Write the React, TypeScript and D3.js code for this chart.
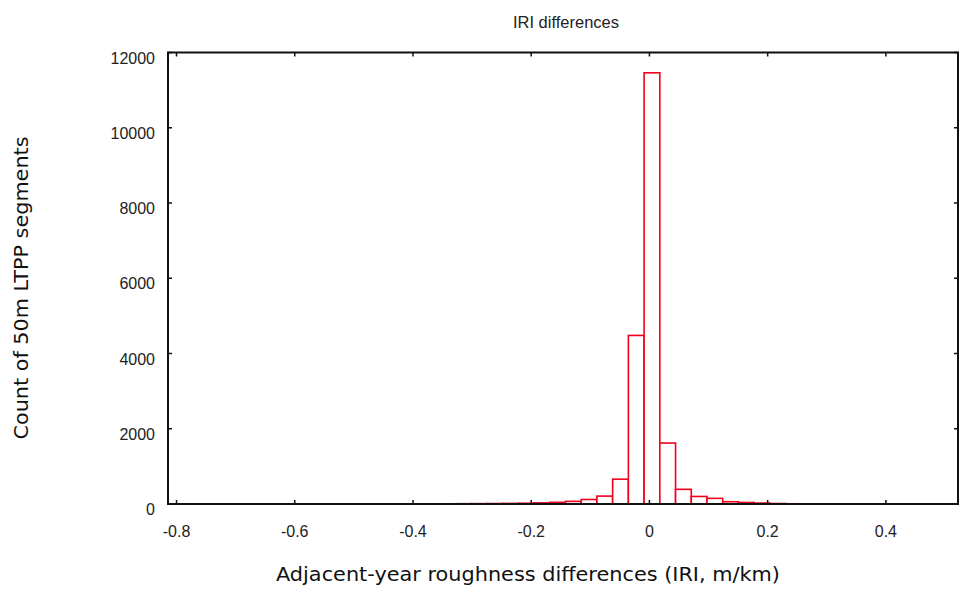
import React, { useEffect, useRef } from 'react';
import * as d3 from 'd3';

// histogram bins: first edge and bin width (IRI, m/km)
const binStart = -0.3548;
const binWidth = 0.0266;
const binCounts = [5, 8, 10, 12, 15, 20, 30, 45, 70, 120, 210, 660, 4480, 11460, 1620, 390, 200, 150, 60, 40, 25, 12, 6];

const xTicks = [-0.8, -0.6, -0.4, -0.2, 0, 0.2, 0.4];
const yTicks = [0, 2000, 4000, 6000, 8000, 10000, 12000];

const chartTitle = 'IRI differences';
const xLabel = 'Adjacent-year roughness differences (IRI, m/km)';
const yLabel = 'Count of 50m LTPP segments';

const App: React.FC = () => {
  const svgRef = useRef<SVGSVGElement>(null);

  useEffect(() => {
    if (!svgRef.current) return;
    const svg = d3.select(svgRef.current);
    svg.selectAll('*').remove();

    const left = 168, right = 958, top = 52.5, bottom = 504;

    const xScale = d3.scaleLinear().domain([-0.8144, 0.522]).range([left, right]);
    const yScale = d3.scaleLinear().domain([0, 12000]).range([bottom, top]);

    const bins = binCounts.map((c, i) => ({ x0: binStart + i * binWidth, x1: binStart + (i + 1) * binWidth, count: c }));

    // bars
    svg.append('g')
      .selectAll('rect')
      .data(bins)
      .enter()
      .append('rect')
      .attr('x', d => xScale(d.x0))
      .attr('y', d => yScale(d.count))
      .attr('width', d => xScale(d.x1) - xScale(d.x0))
      .attr('height', d => yScale(0) - yScale(d.count))
      .attr('fill', 'white')
      .attr('stroke', '#f0001c')
      .attr('stroke-width', 1.6);

    // frame
    svg.append('rect')
      .attr('x', left)
      .attr('y', top)
      .attr('width', right - left)
      .attr('height', bottom - top)
      .attr('fill', 'none')
      .attr('stroke', '#111')
      .attr('stroke-width', 2);

    const tickLen = 4;
    const ticks = svg.append('g').attr('stroke', '#111').attr('stroke-width', 1.5);
    xTicks.forEach(t => {
      const x = xScale(t);
      ticks.append('line').attr('x1', x).attr('x2', x).attr('y1', bottom).attr('y2', bottom - tickLen);
      ticks.append('line').attr('x1', x).attr('x2', x).attr('y1', top).attr('y2', top + tickLen);
    });
    yTicks.forEach(t => {
      const y = yScale(t);
      ticks.append('line').attr('x1', left).attr('x2', left + tickLen).attr('y1', y).attr('y2', y);
      ticks.append('line').attr('x1', right).attr('x2', right - tickLen).attr('y1', y).attr('y2', y);
    });

    const tickFont = 'Liberation Sans, Arial, sans-serif';

    svg.append('g')
      .selectAll('text')
      .data(xTicks)
      .enter()
      .append('text')
      .attr('x', d => xScale(d))
      .attr('y', 537)
      .attr('text-anchor', 'middle')
      .attr('font-family', tickFont)
      .attr('font-size', 16)
      .attr('fill', '#222')
      .text(d => String(d));

    svg.append('g')
      .selectAll('text')
      .data(yTicks)
      .enter()
      .append('text')
      .attr('x', 155)
      .attr('y', d => yScale(d) + 11)
      .attr('text-anchor', 'end')
      .attr('font-family', tickFont)
      .attr('font-size', 16)
      .attr('fill', '#222')
      .text(d => String(d));

    svg.append('text')
      .attr('x', 566)
      .attr('y', 28)
      .attr('text-anchor', 'middle')
      .attr('font-family', tickFont)
      .attr('font-size', 16.5)
      .attr('fill', '#222')
      .text(chartTitle);

    svg.append('text')
      .attr('x', 528)
      .attr('y', 581)
      .attr('text-anchor', 'middle')
      .attr('font-family', 'DejaVu Sans, Verdana, sans-serif')
      .attr('font-size', 19)
      .attr('textLength', 504)
      .attr('lengthAdjust', 'spacingAndGlyphs')
      .attr('fill', '#111')
      .text(xLabel);

    svg.append('text')
      .attr('transform', 'translate(28,288) rotate(-90)')
      .attr('text-anchor', 'middle')
      .attr('font-family', 'DejaVu Sans, Verdana, sans-serif')
      .attr('font-size', 19)
      .attr('textLength', 303)
      .attr('lengthAdjust', 'spacingAndGlyphs')
      .attr('fill', '#111')
      .text(yLabel);
  }, []);

  return (
    <svg
      ref={svgRef}
      width={959}
      height={592}
      style={{ position: 'absolute', left: 0, top: 0, background: 'white' }}
    />
  );
};

export default App;
